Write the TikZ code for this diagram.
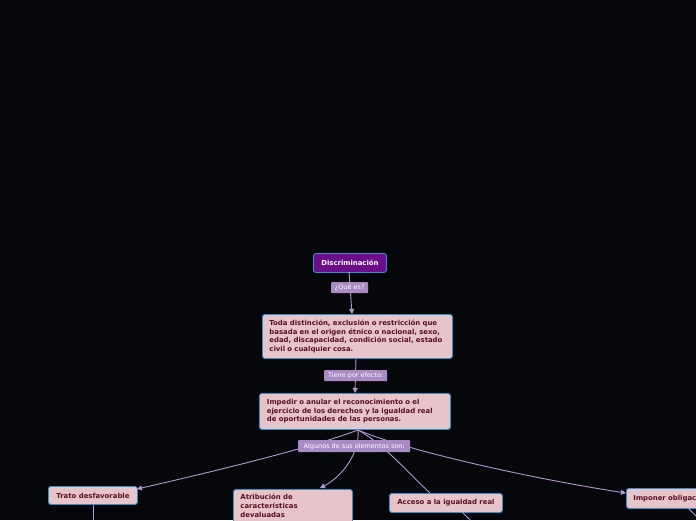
\documentclass[tikz,border=0pt]{standalone}
\usepackage{fontspec}
\setmainfont{DejaVu Sans}
\usetikzlibrary{arrows.meta}
\definecolor{bg}{HTML}{06070A}
\definecolor{boxfill}{HTML}{E6C5CA}
\definecolor{boxline}{HTML}{2E8FD2}
\definecolor{boxtext}{HTML}{5A0F20}
\definecolor{rootfill}{HTML}{6C0E8C}
\definecolor{lblfill}{HTML}{A88BC5}
\definecolor{conn}{HTML}{B397CF}
\tikzset{
  topic/.style={draw=boxline, fill=boxfill, line width=0.9pt, rounded corners=2.5pt,
    text=boxtext, font=\fontsize{6.9}{8.6}\selectfont\bfseries, align=left, inner sep=0pt, anchor=north west},
  rootbox/.style={draw=boxline, fill=rootfill, line width=0.9pt, rounded corners=2.5pt,
    text=white, font=\fontsize{6.9}{8}\selectfont\bfseries, inner sep=0pt, anchor=north west},
  lbl/.style={fill=lblfill, text=white, font=\fontsize{6.5}{7.5}\selectfont, inner sep=0pt, rounded corners=0.8pt, anchor=north west},
  conn/.style={draw=conn, line width=0.9pt},
  arr/.style={conn, -{Triangle[length=5pt,width=5pt]}}
}
\begin{document}
\begin{tikzpicture}[x=1pt,y=-1pt]
\fill[bg] (0,0) rectangle (696,520);
\useasboundingbox (0,0) rectangle (696,520);
\clip (0,0) rectangle (696,520);
% nodes
\node[rootbox, minimum width=73pt, minimum height=19pt] (root) at (313,253) {Discriminación};
\node[topic, minimum width=190pt, minimum height=44pt, text width=176pt] (def) at (262,314)
  {Toda distinción, exclusión o restricción que\\basada en el origen étnico o nacional, sexo,\\edad, discapacidad, condición social, estado\\civil o cualquier cosa.};
\node[topic, minimum width=191pt, minimum height=36pt, text width=176pt] (imp) at (259,393)
  {Impedir o anular el reconocimiento o el\\ejercicio de los derechos y la igualdad real\\de oportunidades de las personas.};
\node[topic, minimum width=89pt, minimum height=18pt, align=center] (trato) at (48,486) {Trato desfavorable};
\node[topic, minimum width=119pt, text width=105pt, inner xsep=7pt, inner ysep=5pt] (atri) at (233,489)
  {Atribución de\\características\\devaluadas\\\strut};
\node[topic, minimum width=113pt, minimum height=19pt, align=center] (acc) at (389,493) {Acceso a la igualdad real};
\node[topic, minimum width=110pt, minimum height=20pt, text width=96pt] (impo) at (626,488) {Imponer obligaciones};
% connectors
\coordinate (impb) at (358,430);
\draw[arr] (349,272) -- (352,314);
\draw[arr] (356,358) -- (355,393);
\draw[arr] (impb) .. controls (310,448) and (220,470) .. (137,489);
\draw[arr] (impb) .. controls (360,450) and (345,475) .. (320,488);
\draw[conn] (impb) .. controls (385,445) and (405,470) .. (430,493);
\draw[arr] (impb) .. controls (410,452) and (540,480) .. (626,493);
\coordinate (c1) at (93,520);
\coordinate (c2) at (470,520);
\coordinate (c3) at (696,516);
\draw[conn] (93,505) -- (c1);
\draw[conn] (462,512) -- (c2);
\draw[conn] (688,508) -- (c3);
% labels
\node[lbl, minimum width=37pt, minimum height=11pt, align=center] (q1) at (331,282) {¿Qué es?};
\node[lbl, minimum width=63pt, minimum height=11pt, align=center] (q2) at (324,370) {Tiene por efecto:};
\node[lbl, minimum width=112pt, minimum height=12pt, align=center] (q3) at (298,440) {Algunos de sus elementos son:};
\end{tikzpicture}
\end{document}
